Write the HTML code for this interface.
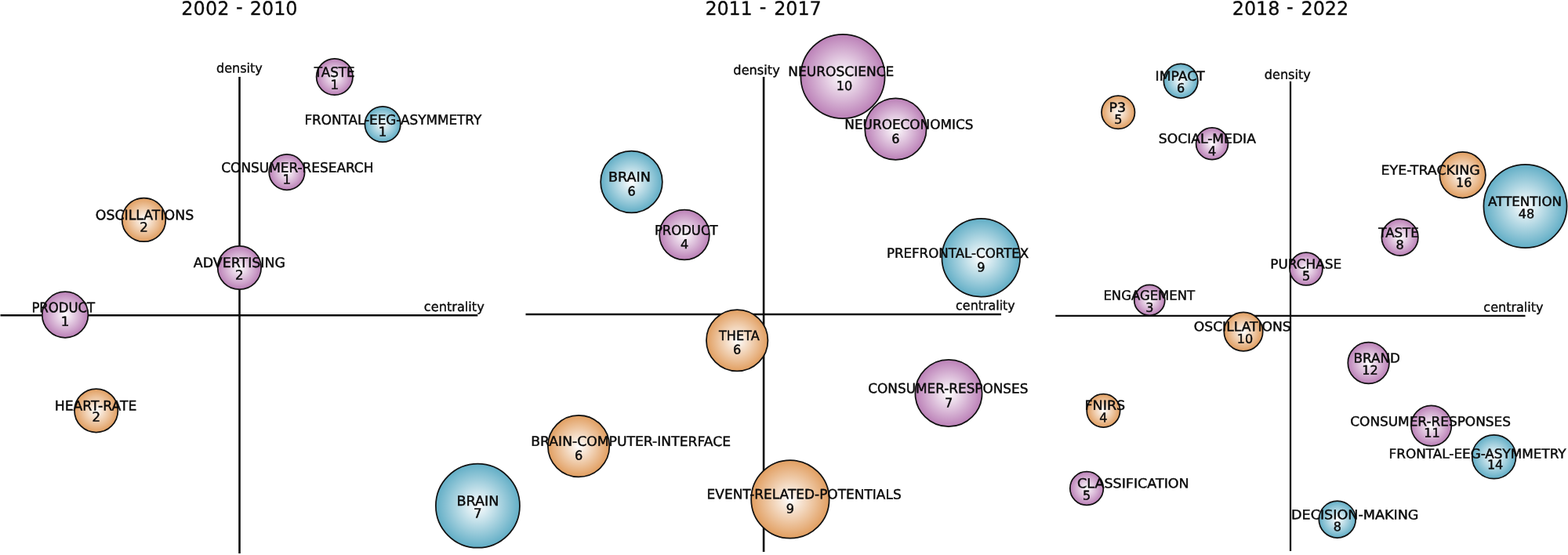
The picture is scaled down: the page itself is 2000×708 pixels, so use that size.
<!DOCTYPE html>
<html lang="en">
<head>
<meta charset="utf-8">
<title>Strategic diagrams 2002 - 2022</title>
<style>
html,body{margin:0;padding:0;background:#fff;}
body{width:2000px;height:708px;overflow:hidden;}
svg{display:block;}
text{font-family:"DejaVu Sans Condensed", "DejaVu Sans", "Liberation Sans", sans-serif;fill:#0a0a0a;stroke:#0a0a0a;stroke-width:0.45px;text-rendering:geometricPrecision;}
.t{font-size:23.9px;font-family:"DejaVu Sans", "Liberation Sans", sans-serif;stroke-width:0.3px;}
.n{font-size:17px;font-family:"DejaVu Sans", "Liberation Sans", sans-serif;}
.c{font-size:15.6px;text-anchor:middle;font-family:"DejaVu Sans", "Liberation Sans", sans-serif;}
.a{font-size:16.6px;stroke-width:0.35px;}
.n0{font-size:17.3px;}.n1{font-size:17px;}.n2{font-size:16.5px;}
.c0{font-size:16.6px;}.c1{font-size:16.1px;}.c2{font-size:16px;}
.ax{stroke:#0d0d0d;fill:none;}
.bb{stroke:#111;stroke-width:1.75;}
</style>
</head>
<body>
<svg width="2000" height="708" viewBox="0 0 2000 708">
<defs>
<radialGradient id="gp" cx="50%" cy="50%" r="50%"><stop offset="0" stop-color="#ffffff"/><stop offset="1" stop-color="#bb80b7"/></radialGradient>
<radialGradient id="gb" cx="50%" cy="50%" r="50%"><stop offset="0" stop-color="#ffffff"/><stop offset="1" stop-color="#62aec6"/></radialGradient>
<radialGradient id="go" cx="50%" cy="50%" r="50%"><stop offset="0" stop-color="#ffffff"/><stop offset="1" stop-color="#e19e60"/></radialGradient>
</defs>

<line class="ax" stroke-width="2.6" x1="305.5" y1="98" x2="305.5" y2="706"/>
<line class="ax" stroke-width="2.6" x1="0.5" y1="402.2" x2="609.3" y2="402.2"/>
<line class="ax" stroke-width="2.6" x1="974.1" y1="98" x2="974.1" y2="704"/>
<line class="ax" stroke-width="2.6" x1="670.5" y1="401" x2="1277" y2="401"/>
<line class="ax" stroke-width="2.25" x1="1646" y1="103.75" x2="1646" y2="703"/>
<line class="ax" stroke-width="2.25" x1="1346.25" y1="402.8" x2="1945.5" y2="402.8"/>
<text class="t" x="231.23 246.58 261.92 277.27 295.94 300.94 313.86 318.86 334.01 349.17 364.33" y="19 19 19 19 19 17 19 19 19 19 19" transform="rotate(0.03 305.45 19)">2002 - 2010</text>
<text class="t" x="899.58 914.53 929.47 944.42 963.84 968.84 982.16 987.16 1002.28 1017.4 1032.51" y="19 19 19 19 19 17 19 19 19 19 19" transform="rotate(0.03 973.45 19)">2011 - 2017</text>
<text class="t" x="1571.86 1586.95 1602.04 1617.13 1636.09 1641.09 1654.45 1659.45 1674.66 1689.87 1705.08" y="19 19 19 19 19 17 19 19 19 19 19" transform="rotate(0.03 1645.75 19)">2018 - 2022</text>
<text class="a" x="276.12" y="92.6" transform="rotate(0.03 305.62 92.6)" textLength="58.59" lengthAdjust="spacingAndGlyphs">density</text>
<text class="a" x="540.86" y="396.9" transform="rotate(0.03 579.5 396.9)" textLength="76.86" lengthAdjust="spacingAndGlyphs">centrality</text>
<text class="a" x="935.36" y="95.1" transform="rotate(0.03 965.25 95.1)" textLength="59.36" lengthAdjust="spacingAndGlyphs">density</text>
<text class="a" x="1219.13" y="395.35" transform="rotate(0.03 1257.12 395.35)" textLength="75.59" lengthAdjust="spacingAndGlyphs">centrality</text>
<text class="a" x="1612.87" y="100.85" transform="rotate(0.03 1642.5 100.85)" textLength="58.85" lengthAdjust="spacingAndGlyphs">density</text>
<text class="a" x="1892.37" y="397.6" transform="rotate(0.03 1930.62 397.6)" textLength="76.1" lengthAdjust="spacingAndGlyphs">centrality</text>
<circle class="bb" cx="426.8" cy="98" r="23.18" fill="url(#gp)"/>
<text class="n n0" x="400.8" y="98" transform="rotate(0.03 426.2 98)" textLength="51.9" lengthAdjust="spacingAndGlyphs">TASTE</text>
<text class="c c0" x="426.8" y="113.8" transform="rotate(0.03 426.8 113.8)">1</text>
<circle class="bb" cx="488.1" cy="158.5" r="22.72" fill="url(#gb)"/>
<text class="n n0" x="388.42" y="158.8" transform="rotate(0.03 502.15 158.8)" textLength="225.79" lengthAdjust="spacingAndGlyphs">FRONTAL-EEG-ASYMMETRY</text>
<text class="c c0" x="488.1" y="173.8" transform="rotate(0.03 488.1 173.8)">1</text>
<circle class="bb" cx="365.9" cy="219.6" r="22.72" fill="url(#gp)"/>
<text class="n n0" x="282.31" y="219.8" transform="rotate(0.03 379 219.8)" textLength="194.09" lengthAdjust="spacingAndGlyphs">CONSUMER-RESEARCH</text>
<text class="c c0" x="365.9" y="234.5" transform="rotate(0.03 365.9 234.5)">1</text>
<circle class="bb" cx="183.5" cy="280.4" r="27.82" fill="url(#go)"/>
<text class="n n0" x="121.78" y="280.35" transform="rotate(0.03 184.5 280.35)" textLength="125.42" lengthAdjust="spacingAndGlyphs">OSCILLATIONS</text>
<text class="c c0" x="183.5" y="295.6" transform="rotate(0.03 183.5 295.6)">2</text>
<circle class="bb" cx="305.4" cy="341.5" r="27.72" fill="url(#gp)"/>
<text class="n n0" x="246.87" y="341.1" transform="rotate(0.03 304.75 341.1)" textLength="117.04" lengthAdjust="spacingAndGlyphs">ADVERTISING</text>
<text class="c c0" x="305.4" y="356.6" transform="rotate(0.03 305.4 356.6)">2</text>
<circle class="bb" cx="83.1" cy="401.5" r="29.32" fill="url(#gp)"/>
<text class="n n0" x="40.38" y="398.35" transform="rotate(0.03 81.62 398.35)" textLength="80.82" lengthAdjust="spacingAndGlyphs">PRODUCT</text>
<text class="c c0" x="83.1" y="415.7" transform="rotate(0.03 83.1 415.7)">1</text>
<circle class="bb" cx="122.7" cy="523.8" r="27.72" fill="url(#go)"/>
<text class="n n0" x="69.74" y="523.6" transform="rotate(0.03 122.3 523.6)" textLength="104.57" lengthAdjust="spacingAndGlyphs">HEART-RATE</text>
<text class="c c0" x="122.7" y="537.5" transform="rotate(0.03 122.7 537.5)">2</text>
<circle class="bb" cx="609.4" cy="645.2" r="53.53" fill="url(#gb)"/>
<text class="n n0" x="582.55" y="645" transform="rotate(0.03 609.5 645)" textLength="53.9" lengthAdjust="spacingAndGlyphs">BRAIN</text>
<text class="c c0" x="609.4" y="660.6" transform="rotate(0.03 609.4 660.6)">7</text>
<circle class="bb" cx="1142.4" cy="164.6" r="39.23" fill="url(#gp)"/>
<text class="n n1" x="1077.35" y="164.6" transform="rotate(0.03 1159.75 164.6)" textLength="164.09" lengthAdjust="spacingAndGlyphs">NEUROECONOMICS</text>
<text class="c c1" x="1142.4" y="182.6" transform="rotate(0.03 1142.4 182.6)">6</text>
<circle class="bb" cx="1075" cy="97.4" r="53.62" fill="url(#gp)"/>
<text class="n n1" x="1005.33" y="97.1" transform="rotate(0.03 1073.12 97.1)" textLength="135.01" lengthAdjust="spacingAndGlyphs">NEUROSCIENCE</text>
<text class="c c1" x="1076.9" y="115.1" transform="rotate(0.03 1076.9 115.1)">10</text>
<circle class="bb" cx="805.5" cy="232" r="39.33" fill="url(#gb)"/>
<text class="n n1" x="776.05" y="231.6" transform="rotate(0.03 803 231.6)" textLength="53.9" lengthAdjust="spacingAndGlyphs">BRAIN</text>
<text class="c c1" x="805.5" y="249.6" transform="rotate(0.03 805.5 249.6)">6</text>
<circle class="bb" cx="873" cy="299.5" r="31.83" fill="url(#gp)"/>
<text class="n n1" x="834.88" y="299.6" transform="rotate(0.03 876 299.6)" textLength="80.57" lengthAdjust="spacingAndGlyphs">PRODUCT</text>
<text class="c c1" x="873" y="317.1" transform="rotate(0.03 873 317.1)">4</text>
<circle class="bb" cx="1251.25" cy="328.75" r="49.83" fill="url(#gb)"/>
<text class="n n1" x="1130.89" y="328.85" transform="rotate(0.03 1222.12 328.85)" textLength="181.37" lengthAdjust="spacingAndGlyphs">PREFRONTAL-CORTEX</text>
<text class="c c1" x="1251.25" y="346.6" transform="rotate(0.03 1251.25 346.6)">9</text>
<circle class="bb" cx="940.2" cy="434.25" r="39.23" fill="url(#go)"/>
<text class="n n1" x="917.05" y="434.1" transform="rotate(0.03 942.75 434.1)" textLength="51.58" lengthAdjust="spacingAndGlyphs">THETA</text>
<text class="c c1" x="940.2" y="451.6" transform="rotate(0.03 940.2 451.6)">6</text>
<circle class="bb" cx="1210" cy="501.6" r="42.62" fill="url(#gp)"/>
<text class="n n1" x="1107.31" y="501.35" transform="rotate(0.03 1209.38 501.35)" textLength="204.13" lengthAdjust="spacingAndGlyphs">CONSUMER-RESPONSES</text>
<text class="c c1" x="1210" y="519.6" transform="rotate(0.03 1210 519.6)">7</text>
<circle class="bb" cx="738.1" cy="569.1" r="39.23" fill="url(#go)"/>
<text class="n n1" x="677.34" y="568.85" transform="rotate(0.03 805 568.85)" textLength="254.75" lengthAdjust="spacingAndGlyphs">BRAIN-COMPUTER-INTERFACE</text>
<text class="c c1" x="738.1" y="586.6" transform="rotate(0.03 738.1 586.6)">6</text>
<circle class="bb" cx="1007.9" cy="636.9" r="49.73" fill="url(#go)"/>
<text class="n n1" x="901.6" y="636.35" transform="rotate(0.03 1026 636.35)" textLength="248.08" lengthAdjust="spacingAndGlyphs">EVENT-RELATED-POTENTIALS</text>
<text class="c c1" x="1007.9" y="654.6" transform="rotate(0.03 1007.9 654.6)">9</text>
<circle class="bb" cx="1506.1" cy="103.25" r="21.77" fill="url(#gb)"/>
<text class="n n2" x="1473.6" y="102.85" transform="rotate(0.03 1506 102.85)" textLength="63.1" lengthAdjust="spacingAndGlyphs">IMPACT</text>
<text class="c c2" x="1506.1" y="117.85" transform="rotate(0.03 1506.1 117.85)">6</text>
<circle class="bb" cx="1426.25" cy="143.25" r="21.22" fill="url(#go)"/>
<text class="n n2" x="1414.54" y="142.85" transform="rotate(0.03 1425.5 142.85)" textLength="21.61" lengthAdjust="spacingAndGlyphs">P3</text>
<text class="c c2" x="1426.25" y="157.85" transform="rotate(0.03 1426.25 157.85)">5</text>
<circle class="bb" cx="1546" cy="183.25" r="20.43" fill="url(#gp)"/>
<text class="n n2" x="1477.87" y="182.6" transform="rotate(0.03 1540.38 182.6)" textLength="124.02" lengthAdjust="spacingAndGlyphs">SOCIAL-MEDIA</text>
<text class="c c2" x="1546" y="198.35" transform="rotate(0.03 1546 198.35)">4</text>
<circle class="bb" cx="1865.6" cy="223.25" r="29.27" fill="url(#go)"/>
<text class="n n2" x="1761.58" y="222.85" transform="rotate(0.03 1824.75 222.85)" textLength="126.07" lengthAdjust="spacingAndGlyphs">EYE-TRACKING</text>
<text class="c c2" x="1867.3" y="238.35" transform="rotate(0.03 1867.3 238.35)">16</text>
<circle class="bb" cx="1945.5" cy="263" r="53.08" fill="url(#gb)"/>
<text class="n n2" x="1898.12" y="262.85" transform="rotate(0.03 1944.38 262.85)" textLength="93.99" lengthAdjust="spacingAndGlyphs">ATTENTION</text>
<text class="c c2" x="1947" y="278.35" transform="rotate(0.03 1947 278.35)">48</text>
<circle class="bb" cx="1785.6" cy="302.75" r="23.27" fill="url(#gp)"/>
<text class="n n2" x="1758.3" y="302.6" transform="rotate(0.03 1783.5 302.6)" textLength="51.49" lengthAdjust="spacingAndGlyphs">TASTE</text>
<text class="c c2" x="1785.6" y="317.85" transform="rotate(0.03 1785.6 317.85)">8</text>
<circle class="bb" cx="1666" cy="343" r="20.93" fill="url(#gp)"/>
<text class="n n2" x="1620.36" y="342.6" transform="rotate(0.03 1666 342.6)" textLength="90.71" lengthAdjust="spacingAndGlyphs">PURCHASE</text>
<text class="c c2" x="1666" y="357.6" transform="rotate(0.03 1666 357.6)">5</text>
<circle class="bb" cx="1466.25" cy="382.9" r="19.52" fill="url(#gp)"/>
<text class="n n2" x="1407.39" y="382.6" transform="rotate(0.03 1466.62 382.6)" textLength="116.82" lengthAdjust="spacingAndGlyphs">ENGAGEMENT</text>
<text class="c c2" x="1466.25" y="397.85" transform="rotate(0.03 1466.25 397.85)">3</text>
<circle class="bb" cx="1586" cy="423.1" r="24.72" fill="url(#go)"/>
<text class="n n2" x="1522.8" y="422.2" transform="rotate(0.03 1584.75 422.2)" textLength="123.9" lengthAdjust="spacingAndGlyphs">OSCILLATIONS</text>
<text class="c c2" x="1588" y="437.85" transform="rotate(0.03 1588 437.85)">10</text>
<circle class="bb" cx="1745.6" cy="463" r="26.32" fill="url(#gp)"/>
<text class="n n2" x="1726.62" y="462.6" transform="rotate(0.03 1756.62 462.6)" textLength="59.35" lengthAdjust="spacingAndGlyphs">BRAND</text>
<text class="c c2" x="1747.5" y="477.85" transform="rotate(0.03 1747.5 477.85)">12</text>
<circle class="bb" cx="1407.4" cy="523.9" r="21.22" fill="url(#go)"/>
<text class="n n2" x="1383.53" y="522.85" transform="rotate(0.03 1409.75 522.85)" textLength="51.7" lengthAdjust="spacingAndGlyphs">FNIRS</text>
<text class="c c2" x="1407.4" y="538.2" transform="rotate(0.03 1407.4 538.2)">4</text>
<circle class="bb" cx="1825.6" cy="543.1" r="25.72" fill="url(#gp)"/>
<text class="n n2" x="1722.3" y="543.35" transform="rotate(0.03 1824.62 543.35)" textLength="204.63" lengthAdjust="spacingAndGlyphs">CONSUMER-RESPONSES</text>
<text class="c c2" x="1826.5" y="557.85" transform="rotate(0.03 1826.5 557.85)">11</text>
<circle class="bb" cx="1905.6" cy="582.75" r="27.93" fill="url(#gb)"/>
<text class="n n2" x="1771.62" y="584.5" transform="rotate(0.03 1885.45 584.5)" textLength="226" lengthAdjust="spacingAndGlyphs">FRONTAL-EEG-ASYMMETRY</text>
<text class="c c2" x="1907.1" y="598.35" transform="rotate(0.03 1907.1 598.35)">14</text>
<circle class="bb" cx="1386.1" cy="623" r="21.27" fill="url(#gp)"/>
<text class="n n2" x="1374.02" y="622.35" transform="rotate(0.03 1445 622.35)" textLength="142.69" lengthAdjust="spacingAndGlyphs">CLASSIFICATION</text>
<text class="c c2" x="1386.1" y="637.6" transform="rotate(0.03 1386.1 637.6)">5</text>
<circle class="bb" cx="1705.75" cy="662.6" r="23.47" fill="url(#gb)"/>
<text class="n n2" x="1647.03" y="662.35" transform="rotate(0.03 1728.38 662.35)" textLength="162.42" lengthAdjust="spacingAndGlyphs">DECISION-MAKING</text>
<text class="c c2" x="1705.75" y="677.35" transform="rotate(0.03 1705.75 677.35)">8</text>
</svg>
</body>
</html>
